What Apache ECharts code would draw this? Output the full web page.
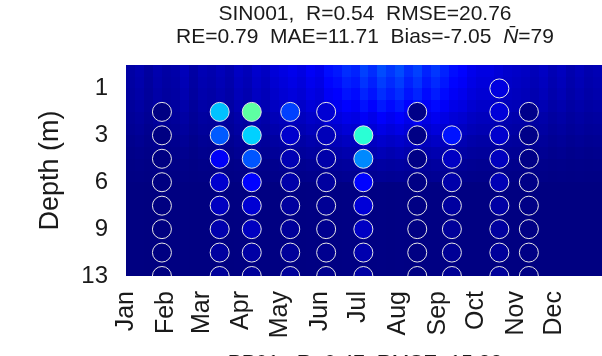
<!DOCTYPE html>
<html><head><meta charset="utf-8">
<script src="https://cdn.jsdelivr.net/npm/echarts@6/dist/echarts.min.js"></script>
<style>html,body{margin:0;padding:0;background:#fff}#c{width:602px;height:356px}</style>
</head><body><div id="c"></div>
<script>
// ---- axes / labels ----
const monthLabels = ['Jan','Feb','Mar','Apr','May','Jun','Jul','Aug','Sep','Oct','Nov','Dec'];
const monthStartDays = [0,31,59,90,120,151,181,212,243,273,304,334];
const depthLevels = ['1','2','3','4.5','6','7.5','9','11','13']; // row index 0..8
const depthTickRows = [0,2,4,6,8];
const titleLine1 = 'SIN001,  R=0.54  RMSE=20.76';
const titleLine2 = 'RE=0.79  MAE=11.71  Bias=-7.05  {i|N\u0304}=79';
const nextTitle = 'PP01,  R=0.47  RMSE=15.32';

// ---- observations (circles): sample day-of-year and values per depth row ----
const sampleDays = [28,73,98,128,156,185,227,254,291,314];
const obsDay28  = [null,1.8,1.7,1.7,1.6,1.6,1.6,1.6,1.6];
const obsDay73  = [null,32.5,22.5,13,9,7.7,5.9,4.5,4];
const obsDay98  = [null,47.5,34,22,14,9.5,7.7,5,4];
const obsDay128 = [null,20,9,6.5,5.5,4.5,4,4,4];
const obsDay156 = [null,9.5,7,5.5,4.5,3.5,3,3,3];
const obsDay185 = [null,null,42.5,27,14,10,8,6,5];
const obsDay227 = [null,2.2,2,2,1.9,1.9,1.8,1.8,1.8];
const obsDay254 = [null,null,15.5,8,5.5,4.5,4,3.5,3.5];
const obsDay291 = [10.8,10,9,7.5,6.5,5,4.5,4,4];
const obsDay314 = [null,2.5,2.3,2.2,2.2,2.1,2,2,2];
const obsColumns = [obsDay28,obsDay73,obsDay98,obsDay128,obsDay156,obsDay185,obsDay227,obsDay254,obsDay291,obsDay314];

// ---- model background: 7-day columns (53), bands of depth rows ----
const bgColumnDays = 7;
const bgBandEdges = [-1,-0.5,0,0.5,1,1.5,2,2.5,3,3.5,4,8];
const bgBand0 = [5,6,4.5,6,5,5.5,7,5,6.5,6, 7,6,8,7,9,8,10,11,12,11, 13,12,15,16,18,17,20,18,21,19, 21,18,20,17,19,17,15,14,12,11, 11,10,9,8.5,8,7,8,6.5,7.5,6, 7,6,6.5];
const bgBand1 = [4.8,5.7,4.3,5.7,4.8,5.2,6.6,4.8,6.2,5.7, 6.6,5.7,7.5,6.6,8.5,7.5,9.4,10.3,11.3,10.3, 12.2,11.3,14.1,15.0,16.8,15.9,18.7,16.8,19.6,17.8, 19.6,16.8,18.7,15.9,17.8,15.9,14.1,13.1,11.3,10.3, 10.3,9.4,8.5,8.0,7.5,6.6,7.5,6.2,7.1,5.7, 6.6,5.7,6.2];
const bgBand2 = [4.5,5.3,4.1,5.3,4.5,4.9,6.2,4.5,5.8,5.3, 6.2,5.3,7.0,6.2,7.9,7.0,8.7,9.6,10.4,9.6, 11.3,10.4,13.0,13.8,15.5,14.7,17.2,15.5,18.1,16.4, 18.1,15.5,17.2,14.7,16.4,14.7,13.0,12.1,10.4,9.6, 9.6,8.7,7.9,7.5,7.0,6.2,7.0,5.8,6.6,5.3, 6.2,5.3,5.8];
const bgBand3 = [4.1,4.9,3.8,4.9,4.1,4.5,5.6,4.1,5.3,4.9, 5.6,4.9,6.4,5.6,7.1,6.4,7.9,8.6,9.4,8.6, 10.1,9.4,11.6,12.4,13.9,13.1,15.4,13.9,16.1,14.6, 16.1,13.9,15.4,13.1,14.6,13.1,11.6,10.9,9.4,8.6, 8.6,7.9,7.1,6.8,6.4,5.6,6.4,5.3,6.0,4.9, 5.6,4.9,5.3];
const bgBand4 = [3.7,4.3,3.4,4.3,3.7,4.0,4.9,3.7,4.6,4.3, 4.9,4.3,5.5,4.9,6.2,5.5,6.8,7.4,8.0,7.4, 8.6,8.0,9.9,10.5,11.7,11.1,13.0,11.7,13.6,12.4, 13.6,11.7,13.0,11.1,12.4,11.1,9.9,9.3,8.0,7.4, 7.4,6.8,6.2,5.8,5.5,4.9,5.5,4.6,5.2,4.3, 4.9,4.3,4.6];
const bgBand5 = [3.3,3.8,3.0,3.8,3.3,3.5,4.3,3.3,4.0,3.8, 4.3,3.8,4.8,4.3,5.3,4.8,5.8,6.3,6.8,6.3, 7.3,6.8,8.3,8.8,9.8,9.3,10.8,9.8,11.3,10.3, 11.3,9.8,10.8,9.3,10.3,9.3,8.3,7.8,6.8,6.3, 6.3,5.8,5.3,5.0,4.8,4.3,4.8,4.0,4.5,3.8, 4.3,3.8,4.0];
const bgBand6 = [2.8,3.2,2.6,3.2,2.8,3.0,3.6,2.8,3.4,3.2, 3.6,3.2,4.0,3.6,4.4,4.0,4.7,5.1,5.5,5.1, 5.9,5.5,6.6,7.0,7.8,7.4,8.5,7.8,8.9,8.2, 8.9,7.8,8.5,7.4,8.2,7.4,6.6,6.3,5.5,5.1, 5.1,4.7,4.4,4.2,4.0,3.6,4.0,3.4,3.8,3.2, 3.6,3.2,3.4];
const bgBand7 = [2.4,2.7,2.3,2.7,2.4,2.6,3.0,2.4,2.9,2.7, 3.0,2.7,3.3,3.0,3.5,3.3,3.8,4.1,4.3,4.1, 4.6,4.3,5.1,5.4,6.0,5.7,6.5,6.0,6.8,6.2, 6.8,6.0,6.5,5.7,6.2,5.7,5.1,4.9,4.3,4.1, 4.1,3.8,3.5,3.4,3.3,3.0,3.3,2.9,3.1,2.7, 3.0,2.7,2.9];
const bgBand8 = [2.1,2.3,2.0,2.3,2.1,2.2,2.4,2.1,2.4,2.3, 2.4,2.3,2.6,2.4,2.8,2.6,2.9,3.1,3.3,3.1, 3.5,3.3,3.8,4.0,4.3,4.1,4.6,4.3,4.8,4.5, 4.8,4.3,4.6,4.1,4.5,4.1,3.8,3.6,3.3,3.1, 3.1,2.9,2.8,2.7,2.6,2.4,2.6,2.4,2.5,2.3, 2.4,2.3,2.4];
const bgBand9 = [1.9,2.0,1.8,2.0,1.9,1.9,2.1,1.9,2.0,2.0, 2.1,2.0,2.2,2.1,2.3,2.2,2.4,2.5,2.6,2.5, 2.7,2.6,2.9,3.0,3.2,3.1,3.4,3.2,3.5,3.3, 3.5,3.2,3.4,3.1,3.3,3.1,2.9,2.8,2.6,2.5, 2.5,2.4,2.3,2.2,2.2,2.1,2.2,2.0,2.1,2.0, 2.1,2.0,2.0];
const bgBandDeep = [1.6,1.6,1.5,1.6,1.6,1.6,1.7,1.6,1.6,1.6, 1.7,1.6,1.7,1.6,1.7,1.7,1.7,1.7,1.8,1.7, 1.8,1.7,1.8,1.8,1.9,1.8,1.9,1.8,1.9,1.8, 1.9,1.8,1.9,1.8,1.8,1.8,1.8,1.7,1.7,1.7, 1.7,1.7,1.6,1.6,1.6,1.6,1.6,1.6,1.6,1.6, 1.6,1.6,1.6];
const bgBands = [bgBand0,bgBand1,bgBand2,bgBand3,bgBand4,bgBand5,bgBand6,bgBand7,bgBand8,bgBand9,bgBandDeep];

const jet = ['#000080','#0000ff','#0080ff','#00ffff','#80ff80','#ffff00','#ff8000','#ff0000','#800000'];

const bgData = [];
bgBands.forEach((band, b) => {
  band.forEach((v, k) => {
    bgData.push([k*bgColumnDays, bgBandEdges[b], v, (k+1)*bgColumnDays, bgBandEdges[b+1]]);
  });
});
const obsData = [];
obsColumns.forEach((col, c) => {
  col.forEach((v, r) => { if (v !== null) obsData.push([sampleDays[c], r, v]); });
});

const FONT = '"Liberation Sans", Arial, sans-serif';
const TXT = '#1a1a1a';
const chart = echarts.init(document.getElementById('c'), null, {renderer:'canvas'});
chart.setOption({
  animation: false,
  backgroundColor: '#ffffff',
  grid: {left:126, top:65, right:0, bottom:80, containLabel:false},
  xAxis: {type:'value', min:0, max:371, axisLine:{show:false}, axisTick:{show:false}, splitLine:{show:false},
    axisLabel:{customValues: monthStartDays, rotate:90, margin:15, fontSize:25, fontFamily:FONT, color:TXT,
      formatter: v => monthLabels[monthStartDays.indexOf(v)]}},
  yAxis: {type:'value', min:-1, max:8, inverse:true, axisLine:{show:false}, axisTick:{show:false}, splitLine:{show:false},
    axisLabel:{customValues: depthTickRows, margin:18, fontSize:24, fontFamily:FONT, color:TXT, formatter: v => depthLevels[v]},
    name:'Depth (m)', nameLocation:'middle', nameRotate:90, nameGap:62, nameTextStyle:{fontSize:27, fontFamily:FONT, color:TXT}},
  visualMap: {type:'continuous', show:false, min:1.5, max:100, dimension:2, seriesIndex:[0,1], inRange:{color: jet}},
  series: [
    {type:'custom', z:1, dimensions:['d0','r0','v','d1','r1'], encode:{x:[0,3], y:[1,4]}, data: bgData,
      renderItem: function(params, api){
        const p0 = api.coord([api.value(0), api.value(1)]);
        const p1 = api.coord([api.value(3), api.value(4)]);
        const x0 = Math.round(Math.min(p0[0],p1[0])), x1 = Math.round(Math.max(p0[0],p1[0]));
        const y0 = Math.round(Math.min(p0[1],p1[1])), y1 = Math.round(Math.max(p0[1],p1[1]));
        return {type:'rect', shape:{x:x0, y:y0, width:x1-x0, height:y1-y0},
          style:{fill: api.visual('color')}};
      }},
    {type:'scatter', z:3, symbol:'circle', symbolSize:19, data: obsData,
      itemStyle:{borderColor:'#e6e6e6', borderWidth:1, opacity:1}}
  ],
  graphic: [
    {type:'rect', z:100, shape:{x:126, y:276, width:476, height:12}, style:{fill:'#ffffff'}},
    {type:'text', z:100, x:365, y:14.5, style:{text:titleLine1, font:'21px '+FONT, fill:TXT, textAlign:'center', textVerticalAlign:'middle', align:'center', verticalAlign:'middle'}},
    {type:'text', z:100, x:365, y:37.5, style:{text:titleLine2, font:'21px '+FONT, fill:TXT, textAlign:'center', textVerticalAlign:'middle', align:'center', verticalAlign:'middle',
      rich:{i:{fontStyle:'italic', fontSize:21, fontFamily:FONT, fill:TXT, color:TXT}}}},
    {type:'text', z:100, x:365, y:353, style:{text:nextTitle, font:'21px '+FONT, fill:TXT, textAlign:'center', textVerticalAlign:'top', align:'center', verticalAlign:'top'}}
  ]
});
</script></body></html>
